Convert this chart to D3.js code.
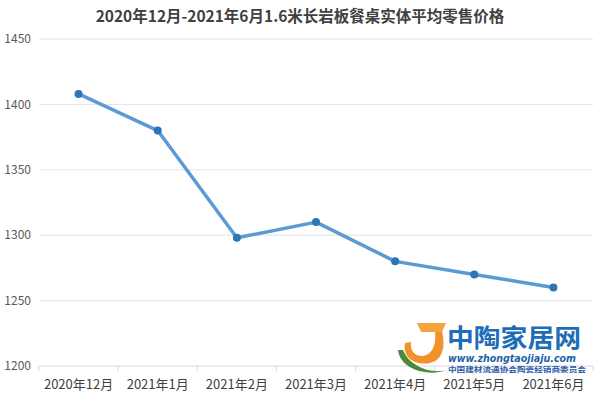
<!DOCTYPE html>
<html>
<head>
<meta charset="utf-8">
<script src="https://cdn.jsdelivr.net/npm/d3@7"></script>
<style>
  body { margin: 0; background: #fff; }
  svg { display: block; }
</style>
</head>
<body>
<div id="chart"></div>
<script>
// chart data
var months = ['2020年12月', '2021年1月', '2021年2月', '2021年3月', '2021年4月', '2021年5月', '2021年6月'];
var prices = [1408, 1380, 1298, 1310, 1280, 1270, 1260];
var y_ticks = [1200, 1250, 1300, 1350, 1400, 1450];
var title_text = '2020年12月-2021年6月1.6米长岩板餐桌实体平均零售价格';

var width = 600, height = 399;
var margin = {top: 39, right: 7, bottom: 33, left: 39};
var font = '"Noto Sans CJK SC", "Noto Sans", sans-serif';

var svg = d3.select('#chart').append('svg')
    .attr('width', width)
    .attr('height', height);

svg.append('text')
    .attr('x', 300)
    .attr('y', 22)
    .attr('text-anchor', 'middle')
    .style('font-family', font)
    .style('font-size', '15.5px')
    .style('font-weight', 'bold')
    .style('fill', '#404040')
    .text(title_text);

let x = d3.scaleBand()
    .domain(months)
    .range([margin.left, width - margin.right]);

let y = d3.scaleLinear()
    .domain([1200, 1450])
    .range([height - margin.bottom, margin.top]);

// grid lines
svg.append('g')
    .selectAll('line')
    .data(y_ticks.slice(1))
    .enter().append('line')
    .attr('x1', margin.left)
    .attr('x2', width - margin.right)
    .attr('y1', function(d) { return y(d); })
    .attr('y2', function(d) { return y(d); })
    .attr('stroke', '#e3e3e3')
    .attr('stroke-width', 1);

// y labels
svg.append('g')
    .selectAll('text')
    .data(y_ticks)
    .enter().append('text')
    .attr('x', 31)
    .attr('y', function(d) { return y(d); })
    .attr('dy', '0.35em')
    .attr('text-anchor', 'end')
    .style('font-family', font)
    .style('font-size', '12px')
    .style('fill', '#595959')
    .text(function(d) { return d; });

// x axis with ticks between categories
let x_axis = svg.append('g')
    .attr('transform', 'translate(0,' + y(1200) + ')');

x_axis.append('line')
    .attr('x1', margin.left)
    .attr('x2', width - margin.right)
    .attr('stroke', '#d9d9d9');

x_axis.selectAll('.tick-mark')
    .data(months.concat(['end']))
    .enter().append('line')
    .attr('class', 'tick-mark')
    .attr('x1', function(d, i) { return margin.left + i * x.step(); })
    .attr('x2', function(d, i) { return margin.left + i * x.step(); })
    .attr('y1', 0)
    .attr('y2', 5)
    .attr('stroke', '#d9d9d9');

x_axis.selectAll('text')
    .data(months)
    .enter().append('text')
    .attr('x', function(d) { return x(d) + x.bandwidth() / 2; })
    .attr('y', 23)
    .attr('text-anchor', 'middle')
    .style('font-family', font)
    .style('font-size', '13px')
    .style('fill', '#404040')
    .text(function(d) { return d; });

// line
let line = d3.line()
    .x(function(d, i) { return x(months[i]) + x.bandwidth() / 2; })
    .y(function(d) { return y(d); });

svg.append('path')
    .datum(prices)
    .attr('d', line)
    .attr('fill', 'none')
    .attr('stroke', '#5b9bd5')
    .attr('stroke-width', 3.5)
    .attr('stroke-linejoin', 'round');

svg.append('g')
    .selectAll('circle')
    .data(prices)
    .enter().append('circle')
    .attr('cx', function(d, i) { return x(months[i]) + x.bandwidth() / 2; })
    .attr('cy', function(d) { return y(d); })
    .attr('r', 4)
    .style('fill', '#2e75b6');

// watermark logo
let logo = svg.append('g');

logo.append('path')
    .attr('d', 'M398,350 C400,370 430,377 446,370 C434,374 410,368 403,350 Z')
    .style('fill', '#4a8a3a');
logo.append('path')
    .attr('d', 'M405,343 C402,358 416,366 430,363 C442,360 446,348 442,331 L435,331 C437,347 430,356 422,356 C414,356 410,350 411,342 Z')
    .style('fill', '#f0932a');
logo.append('path')
    .attr('d', 'M417,323 L446,323 L442,332 L421,332 Z')
    .style('fill', '#f3a43a');

logo.append('text')
    .attr('x', 447)
    .attr('y', 346.5)
    .attr('textLength', 134)
    .attr('lengthAdjust', 'spacingAndGlyphs')
    .style('font-family', font)
    .style('font-size', '25px')
    .style('font-weight', 'bold')
    .style('fill', '#1f6db8')
    .text('中陶家居网');

logo.append('text')
    .attr('x', 448)
    .attr('y', 361.5)
    .attr('textLength', 128)
    .attr('lengthAdjust', 'spacingAndGlyphs')
    .style('font-family', '"DejaVu Sans", sans-serif')
    .style('font-size', '10px')
    .style('font-weight', 'bold')
    .style('font-style', 'italic')
    .style('fill', '#1f5fa8')
    .text('www.zhongtaojiaju.com');

logo.append('text')
    .attr('x', 448)
    .attr('y', 372)
    .attr('textLength', 138)
    .attr('lengthAdjust', 'spacingAndGlyphs')
    .style('font-family', font)
    .style('font-size', '7px')
    .style('font-weight', 'bold')
    .style('fill', '#2a5aa8')
    .text('中国建材流通协会陶瓷经销商委员会');
</script>
</body>
</html>
